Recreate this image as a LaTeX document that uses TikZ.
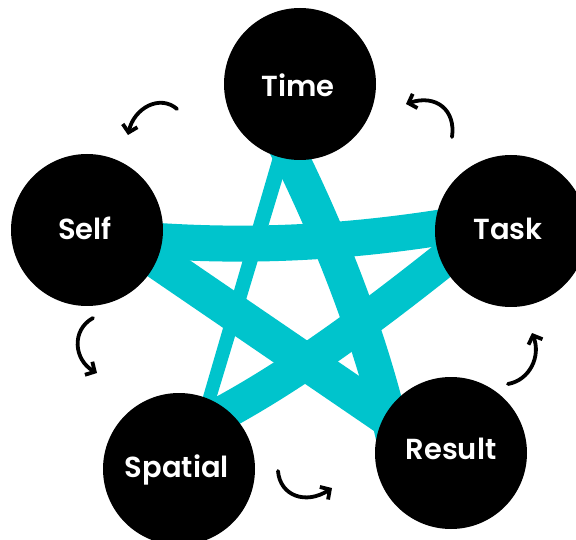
\documentclass[tikz,border=0pt]{standalone}
\usepackage{fontspec}
\setmainfont{Poppins}[BoldFont={Poppins SemiBold}]
\usetikzlibrary{arrows.meta}
\definecolor{starcyan}{RGB}{0,196,204}
\begin{document}
\begin{tikzpicture}[x=1pt,y=-1pt,
  disc/.style={circle,fill=black,draw=none,minimum size=152pt,inner sep=0pt},
  lbl/.style={text=white,font=\bfseries\fontsize{29}{29}\selectfont,anchor=base,inner sep=0pt},
  band/.style={draw=starcyan,line width=36pt,line cap=butt},
  cyc/.style={draw=black,line width=3.8pt,line cap=round,-{Straight Barb[length=7pt,width=15pt]}}]
\useasboundingbox (0,0) rectangle (576,540);
% band end points
\coordinate (stA) at (120,238);
\coordinate (stB) at (480,221);
\coordinate (srA) at (120,235);
\coordinate (srB) at (420,440);
\coordinate (tsA) at (480,231);
\coordinate (tsB) at (200,425);
\coordinate (trA) at (275,125);
\coordinate (trB) at (400,470);
% star bands
\draw[band] (stA) .. controls (230,248) and (340,246) .. (stB);
\draw[band,line width=37pt] (srA) -- (srB);
\draw[band,line width=35pt] (tsA) .. controls (400,295) and (300,375) .. (tsB);
\draw[band,line width=35pt] (trA) .. controls (332,235) and (380,360) .. (trB);
\fill[starcyan] (301.1,117.3) -- (282.9,122.7) -- (193.8,428.2) -- (206.2,431.8) -- cycle;
% circles
\node[disc] (time) at (300,84) {};
\node[disc] (self) at (87,230) {};
\node[disc] (task) at (511,231) {};
\node[disc] (spatial) at (179,469) {};
\node[disc] (result) at (451,453) {};
% labels
\node[lbl] (timeL) at (298,97) {Time};
\node[lbl] (selfL) at (85,240) {Self};
\node[lbl] (taskL) at (508,240) {Task};
\node[lbl] (spatialL) at (177,477) {Spatial};
\node[lbl] (resultL) at (451,459) {Result};
% cycle arrows
\coordinate (a1s) at (177,109); \coordinate (a1e) at (128,135);
\coordinate (a2s) at (452,137); \coordinate (a2e) at (406,104);
\coordinate (a3s) at (508,384); \coordinate (a3e) at (532,333);
\coordinate (a4s) at (278,471); \coordinate (a4e) at (332,488);
\coordinate (a5s) at (93,318);  \coordinate (a5e) at (97,373);
\draw[cyc] (a1s) .. controls (160,94) and (134,108) .. (a1e);
\draw[cyc] (a2s) .. controls (456,110) and (436,94) .. (a2e);
\draw[cyc] (a3s) .. controls (530,380) and (541,356) .. (a3e);
\draw[cyc] (a4s) .. controls (280,496) and (306,505) .. (a4e);
\draw[cyc] (a5s) .. controls (71,330) and (74,360) .. (a5e);
\end{tikzpicture}
\end{document}
